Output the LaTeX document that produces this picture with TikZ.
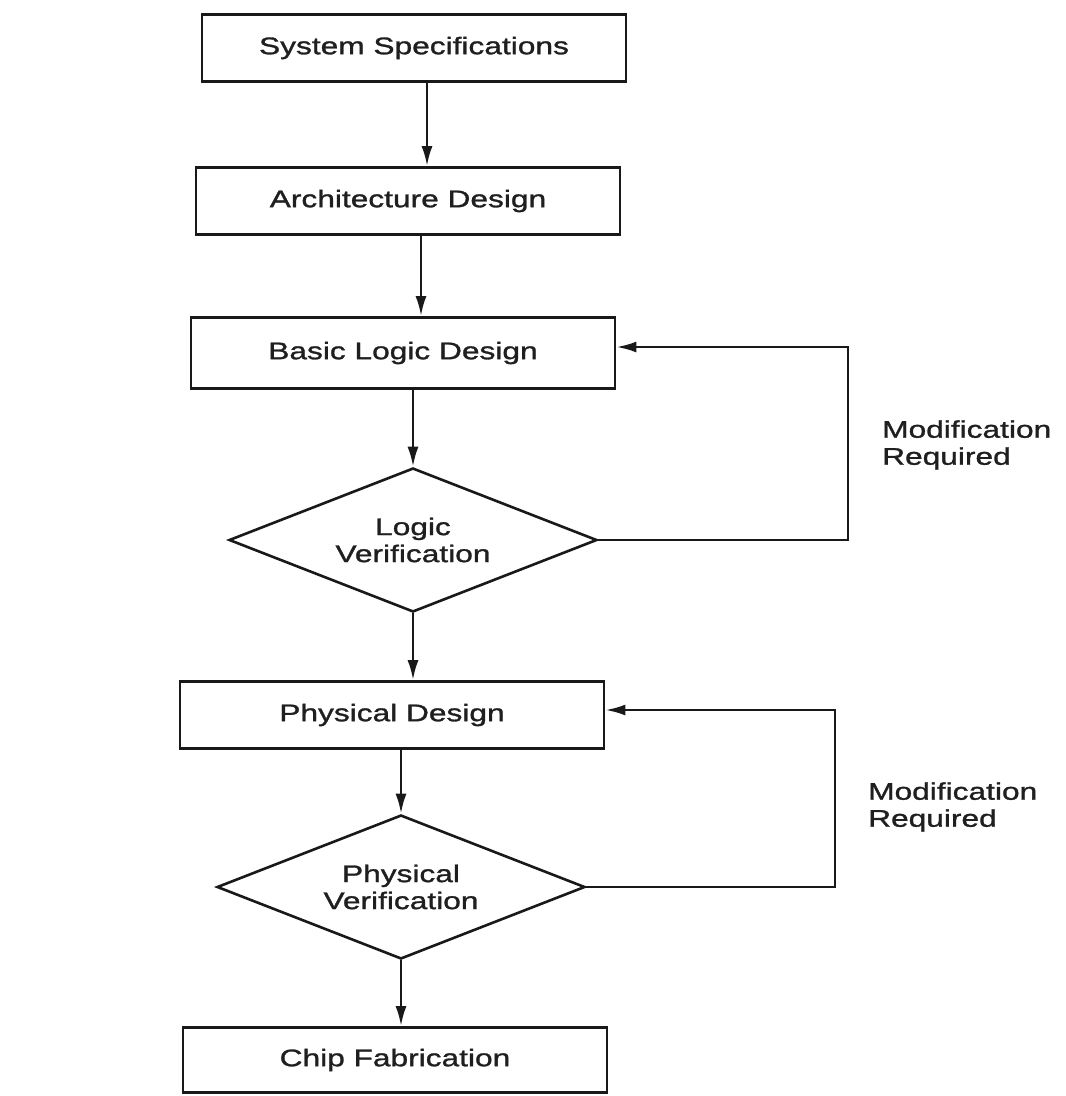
\documentclass[tikz,border=0pt]{standalone}
\usepackage{fontspec}
\newfontfamily\diagfont[FakeStretch=1.32,FakeBold=1.2]{Liberation Sans}
\usetikzlibrary{shapes.geometric,arrows.meta}
\tikzset{
  every node/.style={font={\diagfont\fontsize{24}{27}\selectfont}, text=black!88},
  box/.style={draw=black!90, line width=2.8pt, minimum width=424pt, minimum height=67pt, inner sep=0pt},
  decision/.style={draw=black!90, line width=2.6pt, diamond, aspect=2.56, minimum width=368pt, minimum height=144pt, inner sep=0pt, align=center},
  arr/.style={draw=black!90, line width=2.6pt, -{Latex[length=20pt,width=11pt]}},
  lbl/.style={align=left, anchor=west, inner sep=0pt}
}
\begin{document}
\begin{tikzpicture}[x=1pt,y=-1pt]
\useasboundingbox[fill=white] (0,0) rectangle (1066,1096);
\node[box] (spec)  at (414,48)  {System Specifications};
\node[box] (arch)  at (408,201) {Architecture Design};
\node[box, minimum height=71pt] (basic) at (403,353) {Basic Logic Design};
\node[decision] (lv) at (413,540) {Logic\\Verification};
\node[box] (pd)    at (392,715) {Physical Design};
\node[decision] (pv) at (401,887) {Physical\\Verification};
\node[box, minimum height=65pt] (chip)  at (395,1060) {Chip Fabrication};

\coordinate (r1) at (848,0);
\coordinate (r2) at (835,0);

\draw[arr] ([xshift=13pt]spec.south) -- ([xshift=13pt]spec.south |- arch.north);
\draw[arr] ([xshift=13pt]arch.south) -- ([xshift=13pt]arch.south |- basic.north);
\draw[arr] (basic.south -| lv.north) -- (lv.north);
\draw[arr] (lv.south) -- (lv.south |- pd.north);
\draw[arr] (pd.south -| pv.north) -- (pv.north);
\draw[arr] (pv.south) -- (pv.south |- chip.north);

\draw[arr] (lv.east) -- (lv.east -| r1) |- ([yshift=6pt]basic.east);
\draw[arr] (pv.east) -- (pv.east -| r2) |- ([yshift=5pt]pd.east);

\node[lbl] (m1) at (882,445) {Modification\\Required};
\node[lbl] (m2) at (868,807) {Modification\\Required};
\end{tikzpicture}
\end{document}
